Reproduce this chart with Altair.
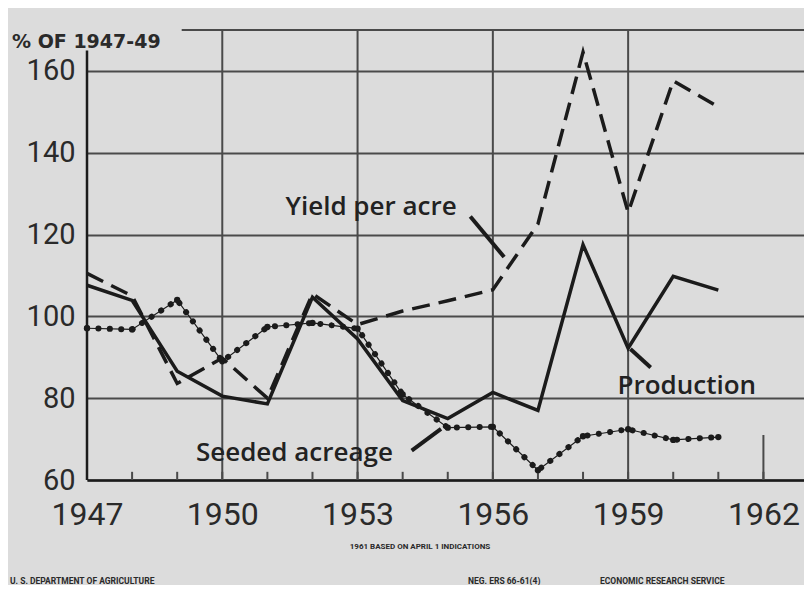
import altair as alt
import pandas as pd

# ---- data (percent of 1947-49) ----
years = list(range(1947, 1962))
production = [107.6, 103.9, 86.6, 80.5, 78.6, 104.7, 94.5, 79.4, 75.0, 81.4, 77.0, 117.5, 92.2, 109.8, 106.4]
yield_per_acre = [110.5, 105.0, 83.6, 89.8, 80.0, 105.5, 98.0, 101.3, 103.8, 106.5, 122.6, 164.6, 125.4, 157.6, 151.2]
seeded_acreage = [97.1, 96.8, 104.0, 89.0, 97.4, 98.4, 97.0, 80.9, 72.8, 73.0, 62.4, 70.7, 72.4, 69.8, 70.5]

y_ticks = [60, 80, 100, 120, 140, 160]
x_labels = [1947, 1950, 1953, 1956, 1959, 1962]
v_grid_years = [1950, 1953, 1956, 1959]
tick_years = list(range(1947, 1963))

label_text = ["Yield per acre", "Production", "Seeded acreage"]
label_year = [1953.3, 1960.3, 1951.6]
label_value = [126.8, 83.0, 66.6]

leader_x = [1955.5, 1959.5, 1954.2]
leader_y = [124.4, 87.5, 67.2]
leader_x2 = [1956.25, 1959.05, 1954.85]
leader_y2 = [114.5, 92.0, 72.5]

FONT = "Roboto"
LFONT = "Open Sans"
INK = "#1b1b1b"
GRID = "#4a4a4a"
BG = "#dcdcdc"

df = pd.DataFrame({"year": years, "production": production,
                   "yield": yield_per_acre, "seeded": seeded_acreage})

xscale = alt.Scale(domain=[1947, 1962.9], nice=False, zero=False)
yscale = alt.Scale(domain=[60, 170], nice=False, zero=False)

xaxis = alt.Axis(values=x_labels, format="d", labelFontSize=32, labelFont=FONT,
                 labelColor="#2a2a2a", tickSize=0, labelPadding=19, domainColor=INK,
                 domainWidth=2.5, grid=False, title=None, labelFlush=False)
yaxis = alt.Axis(values=y_ticks, labelFontSize=29, labelFont=FONT, labelColor="#2a2a2a",
                 grid=True, gridColor=GRID, gridWidth=2, domain=False, ticks=False,
                 labelPadding=12, title=None)

def X(field):
    return alt.X(field, scale=xscale, axis=xaxis)

def Y(field):
    return alt.Y(field, scale=yscale, axis=yaxis)

base = alt.Chart(df)

vgrid = alt.Chart(pd.DataFrame({"year": v_grid_years})).mark_rule(
    color=GRID, strokeWidth=2).encode(x=X("year:Q"), y=alt.datum(60), y2=alt.datum(170))

yticks_small = alt.Chart(pd.DataFrame({"year": tick_years})).mark_rule(
    color=GRID, strokeWidth=2).encode(x=X("year:Q"), y=alt.datum(60), y2=alt.datum(62))

long_tick = alt.Chart(pd.DataFrame({"year": [1962]})).mark_rule(
    color=GRID, strokeWidth=2).encode(x=X("year:Q"), y=alt.datum(60), y2=alt.datum(71))

yaxis_line = alt.Chart(pd.DataFrame({"year": [1947]})).mark_rule(
    color=INK, strokeWidth=2.5).encode(x=X("year:Q"), y=alt.datum(60), y2=alt.datum(165))

top_line = alt.Chart(pd.DataFrame({"x1": [1949.1], "x2": [1962.9]})).mark_rule(
    color=GRID, strokeWidth=2).encode(x=X("x1:Q"), x2="x2:Q", y=alt.datum(170))

prod_line = base.mark_line(color=INK, strokeWidth=3.5, strokeJoin="miter").encode(
    x=X("year:Q"), y=Y("production:Q"))

yield_line = base.mark_line(color=INK, strokeWidth=3.5, strokeDash=[18, 9]).encode(
    x=X("year:Q"), y=Y("yield:Q"))

seed_thin = base.mark_line(color=INK, strokeWidth=1.2).encode(
    x=X("year:Q"), y=Y("seeded:Q"))
seed_dots = base.mark_line(color=INK, strokeWidth=6, strokeDash=[0.1, 11.3],
                           strokeCap="round").encode(x=X("year:Q"), y=Y("seeded:Q"))
seed_pts = base.mark_circle(color=INK, size=40, opacity=1).encode(
    x=X("year:Q"), y=Y("seeded:Q"))

leaders = alt.Chart(pd.DataFrame({"x": leader_x, "y": leader_y,
                                  "x2": leader_x2, "y2": leader_y2})).mark_rule(
    color=INK, strokeWidth=4).encode(x=X("x:Q"), y=Y("y:Q"), x2="x2:Q", y2="y2:Q")

labels = alt.Chart(pd.DataFrame({"t": label_text, "year": label_year, "v": label_value})).mark_text(
    font=LFONT, fontSize=26, fontWeight=600, color="#222222").encode(
    x=X("year:Q"), y=Y("v:Q"), text="t:N")

def free_text(txt, x, y, size, align="left", weight="bold", font=FONT):
    return alt.Chart(pd.DataFrame({"t": [txt]})).mark_text(
        font=font, fontSize=size, fontWeight=weight, color="#2a2a2a", align=align,
        baseline="middle").encode(text="t:N", x=alt.value(x), y=alt.value(y))

header = free_text("% OF 1947-49", -75, 12, 19, weight=600, font="DejaVu Sans")
footnote = free_text("1961 BASED ON APRIL 1 INDICATIONS", 333, 517, 8, align="center")
credit_l = free_text("U. S. DEPARTMENT OF AGRICULTURE", -77, 551, 8.5)
credit_m = free_text("NEG. ERS 66-61(4)", 381, 551, 8.5)
credit_r = free_text("ECONOMIC  RESEARCH  SERVICE", 513, 551, 8.5)

chart = alt.layer(
    vgrid, yticks_small, long_tick, top_line, yaxis_line,
    seed_thin, seed_dots, seed_pts, yield_line, prod_line,
    leaders, labels, header, footnote, credit_l, credit_m, credit_r
).properties(
    width=717, height=450,
    padding={"left": 79, "top": 22, "right": 0, "bottom": 105},
    autosize=alt.AutoSizeParams(type="none"),
    background=BG
).configure_view(stroke=None)

chart.save("out.html", embed_options={"renderer": "svg", "actions": False})
